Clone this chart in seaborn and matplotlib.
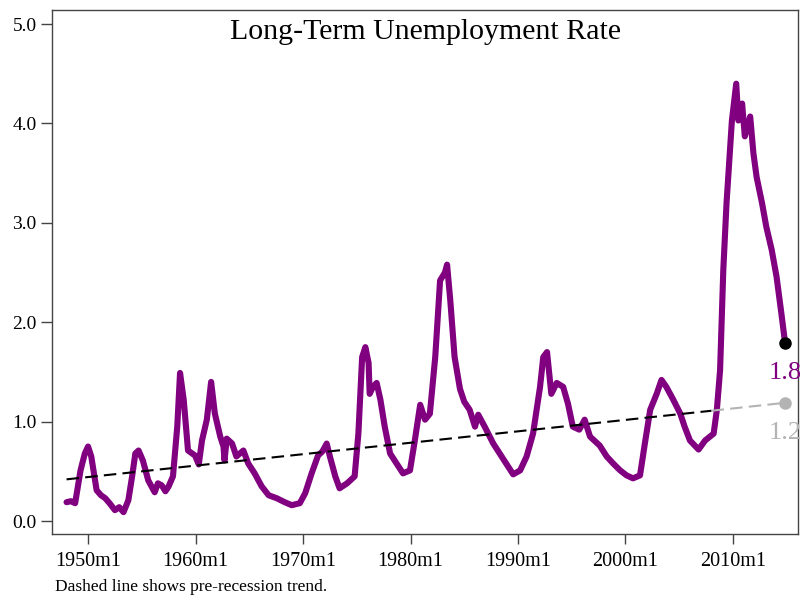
import numpy as np
import pandas as pd
import matplotlib
matplotlib.use("Agg")
import matplotlib.pyplot as plt
import seaborn as sns

# %% data (fractional year, percent)
years = [1948.0, 1948.4, 1948.8, 1949.3, 1949.7, 1950.0, 1950.3, 1950.8, 1951.2, 1951.6,
         1952.0, 1952.5, 1952.9, 1953.3, 1953.75, 1954.1, 1954.4, 1954.7, 1955.1, 1955.6,
         1956.2, 1956.5, 1956.85, 1957.2, 1957.5, 1957.9, 1958.3, 1958.56, 1958.9, 1959.3,
         1959.95, 1960.3, 1960.6, 1961.05, 1961.45, 1961.8, 1962.3, 1962.6, 1962.7, 1962.9,
         1963.4, 1963.8, 1964.45, 1964.9, 1965.5, 1966.15, 1966.8, 1967.55, 1968.3, 1968.95,
         1969.7, 1970.2, 1970.8, 1971.4, 1971.8, 1972.2, 1972.5, 1973.0, 1973.4, 1974.1,
         1974.8, 1975.15, 1975.5, 1975.8, 1976.1, 1976.2, 1976.5, 1976.85, 1977.2, 1977.6,
         1978.1, 1978.7, 1979.3, 1979.95, 1980.4, 1980.9, 1981.35, 1981.8, 1982.3, 1982.75,
         1983.2, 1983.4, 1983.7, 1984.1, 1984.6, 1985.0, 1985.5, 1986.0, 1986.3, 1986.9,
         1987.7, 1988.3, 1988.9, 1989.55, 1990.2, 1990.8, 1991.4, 1992.05, 1992.35, 1992.7,
         1993.1, 1993.6, 1994.2, 1994.65, 1995.1, 1995.7, 1996.2, 1996.7, 1997.6, 1998.25,
         1998.85, 1999.5, 2000.1, 2000.7, 2001.35, 2001.8, 2002.3, 2002.9, 2003.35, 2003.8,
         2004.45, 2005.1, 2005.5, 2006.0, 2006.8, 2007.4, 2008.2, 2008.5, 2008.8, 2009.1,
         2009.4, 2009.9, 2010.3, 2010.5, 2010.85, 2011.1, 2011.6, 2011.9, 2012.2, 2012.7,
         2013.1, 2013.6, 2014.05, 2014.5, 2014.85]
rate = [0.19, 0.20, 0.18, 0.51, 0.68, 0.75, 0.65, 0.31, 0.26, 0.23,
        0.18, 0.11, 0.14, 0.09, 0.21, 0.45, 0.68, 0.71, 0.61, 0.41,
        0.29, 0.38, 0.36, 0.30, 0.35, 0.45, 0.95, 1.49, 1.22, 0.71,
        0.66, 0.57, 0.81, 1.02, 1.40, 1.08, 0.85, 0.75, 0.61, 0.83,
        0.78, 0.65, 0.71, 0.58, 0.48, 0.35, 0.26, 0.23, 0.19, 0.16,
        0.18, 0.28, 0.48, 0.66, 0.70, 0.78, 0.65, 0.45, 0.33, 0.38,
        0.45, 0.88, 1.65, 1.75, 1.59, 1.28, 1.35, 1.39, 1.22, 0.95,
        0.68, 0.58, 0.48, 0.51, 0.81, 1.17, 1.02, 1.08, 1.65, 2.42,
        2.50, 2.58, 2.22, 1.65, 1.33, 1.20, 1.12, 0.95, 1.07, 0.95,
        0.78, 0.68, 0.58, 0.47, 0.51, 0.65, 0.88, 1.35, 1.65, 1.70,
        1.28, 1.39, 1.35, 1.18, 0.95, 0.92, 1.02, 0.85, 0.76, 0.65,
        0.58, 0.51, 0.46, 0.43, 0.46, 0.78, 1.12, 1.28, 1.42, 1.35,
        1.22, 1.08, 0.95, 0.81, 0.72, 0.81, 0.88, 1.12, 1.52, 2.53,
        3.20, 4.03, 4.40, 4.03, 4.20, 3.87, 4.07, 3.70, 3.46, 3.20,
        2.96, 2.73, 2.46, 2.09, 1.79]

# pre-recession trend (black) and its extension (gray)
trend_years = [1948.0, 2008.0]
trend_vals = [0.42, 1.11]
ext_years = [2008.0, 2014.85]
ext_vals = [1.11, 1.19]

tick_years = [1950, 1960, 1970, 1980, 1990, 2000, 2010]
tick_labels = ["1950m1", "1960m1", "1970m1", "1980m1", "1990m1", "2000m1", "2010m1"]

df = pd.DataFrame({"year": years, "rate": rate})

# %% plot
sns.set_style("white")
plt.rcParams["font.family"] = ["Liberation Serif", "DejaVu Serif"]
plt.rcParams["text.color"] = "black"

fig = plt.figure(figsize=(8.03, 5.96), dpi=100)
ax = fig.add_axes([0.0648, 0.104, 0.929, 0.879])

sns.lineplot(data=df, x="year", y="rate", color="#800080", linewidth=4.4, ax=ax,
             solid_joinstyle="round", solid_capstyle="round", zorder=3)
ax.plot(trend_years, trend_vals, color="black", linestyle=(0, (6, 3)), linewidth=1.5, zorder=4)
ax.plot(ext_years, ext_vals, color="#b3b3b3", linestyle=(0, (6, 3)), linewidth=1.5, zorder=4)
ax.plot(years[-1], rate[-1], "o", color="black", markersize=8, zorder=5)
ax.plot(ext_years[-1], ext_vals[-1], "o", color="#b3b3b3", markersize=8, zorder=5)

ax.text(2013.3, rate[-1] - 0.3, f"{rate[-1]:.1f}", color="#800080", fontsize=19,
        va="center", ha="left", clip_on=False)
ax.text(2013.3, ext_vals[-1] - 0.3, f"{ext_vals[-1]:.1f}", color="#b3b3b3", fontsize=19,
        va="center", ha="left", clip_on=False)

ax.set_xlim(1946.65, 2016.05)
ax.set_ylim(-0.13, 5.14)
ax.set_xticks(tick_years)
ax.set_xticklabels(tick_labels)
ax.set_yticks(np.arange(0, 5.01, 1.0))
ax.set_yticklabels([f"{v:.1f}" for v in np.arange(0, 5.01, 1.0)])
ax.set_xlabel("")
ax.set_ylabel("")
ax.tick_params(axis="both", direction="out", colors="#444444", labelcolor="black",
               width=1, bottom=True, left=True)
ax.tick_params(axis="y", length=8, pad=3, labelsize=14)
ax.tick_params(axis="x", length=7, pad=6, labelsize=14.5)
for s in ax.spines.values():
    s.set_color("#444444")
    s.set_linewidth(1)

ax.set_title("Long-Term Unemployment Rate", fontsize=21.5, y=0.968, va="top", color="black")
fig.text(0.069, 0.008, "Dashed line shows pre-recession trend.", fontsize=12.5, color="black")

fig.savefig("out.png", dpi=100)
